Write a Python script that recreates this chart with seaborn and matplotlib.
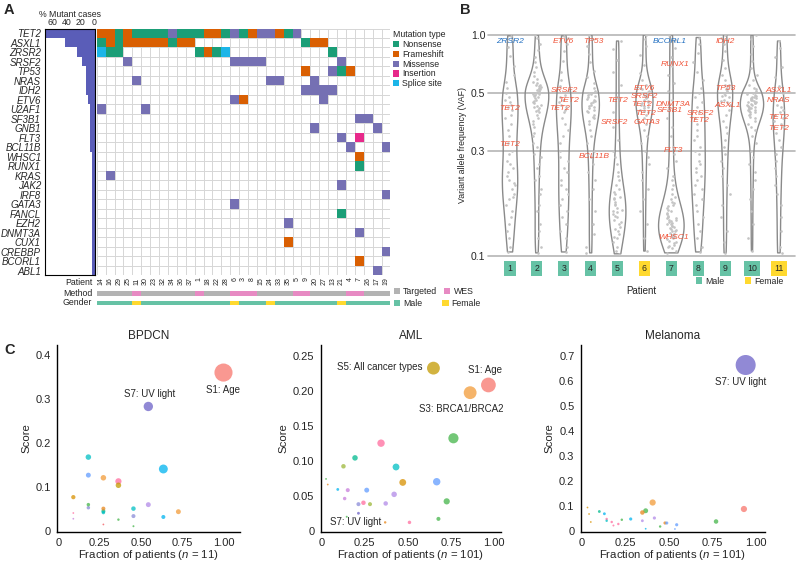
import numpy as np
import pandas as pd
import matplotlib
matplotlib.use("Agg")
import matplotlib.pyplot as plt
import seaborn as sns
from matplotlib.colors import ListedColormap
from matplotlib.patches import Patch
from matplotlib.ticker import NullLocator

# ---------------- panel A: oncoplot ----------------
patients_a = [14, 16, 29, 25, 11, 30, 23, 32, 34, 36, 37, 1, 18, 22, 28, 6, 3, 8,
              15, 24, 33, 35, 5, 9, 20, 27, 13, 21, 4, 7, 26, 17, 19]
wes_patients = [11, 1, 6, 3, 8, 5, 9, 4, 7]
female_patients_a = [11, 6, 24, 21]

genes = ["TET2", "ASXL1", "ZRSR2", "SRSF2", "TP53", "NRAS", "IDH2", "ETV6", "U2AF1",
         "SF3B1", "GNB1", "FLT3", "BCL11B", "WHSC1", "RUNX1", "KRAS", "JAK2", "IRF8",
         "GATA3", "FANCL", "EZH2", "DNMT3A", "CUX1", "CREBBP", "BCORL1", "ABL1"]

# one char per patient column: N nonsense, F frameshift, M missense, I insertion, S splice site
mutations = [
    "FFNFN NNNMN NNFFN MNFMM FNM.. ..... ...",  # TET2
    "NFNFF FFFNF F.... ..... ...NF F.... ...",  # ASXL1
    "SNN.. ..... .NFNS ..... ..... .N... ...",  # ZRSR2
    "...M. ..... ..... MMMM. ..... ..M.. ...",  # SRSF2
    "..... ..... ..... ..... ...F. .MNF. ...",  # TP53
    "....M ..... ..... ....M M...M ..... ...",  # NRAS
    "..... ..... ..... ..... ...MM MM... ...",  # IDH2
    "..... ..... ..... MF... ..... M.... ...",  # ETV6
    "M.... M.... ..... ..... ..... ..... ...",  # U2AF1
    "..... ..... ..... ..... ..... ....M M..",  # SF3B1
    "..... ..... ..... ..... ....M ..... .M.",  # GNB1
    "..... ..... ..... ..... ..... ..M.I ...",  # FLT3
    "..... ..... ..... ..... ..... ...M. ..M",  # BCL11B
    "..... ..... ..... ..... ..... ....F ...",  # WHSC1
    "..... ..... ..... ..... ..... ....N ...",  # RUNX1
    ".M... ..... ..... ..... ..... ..... ...",  # KRAS
    "..... ..... ..... ..... ..... ..M.. ...",  # JAK2
    "..... ..... ..... ..... ..... ..... ..M",  # IRF8
    "..... ..... ..... M.... ..... ..... ...",  # GATA3
    "..... ..... ..... ..... ..... ..N.. ...",  # FANCL
    "..... ..... ..... ..... .M... ..... ...",  # EZH2
    "..... ..... ..... ..... ..... ....M ...",  # DNMT3A
    "..... ..... ..... ..... .F... ..... ...",  # CUX1
    "..... ..... ..... ..... ..... ..... ..M",  # CREBBP
    "..... ..... ..... ..... ..... ....F ...",  # BCORL1
    "..... ..... ..... ..... ..... ..... .M.",  # ABL1
]
mut_names = ["Nonsense", "Frameshift", "Missense", "Insertion", "Splice site"]

# ---------------- panel B: VAF per patient (percent) ----------------
vaf_pct = [
    [99, 94, 87, 78, 69, 62, 57, 53, 50, 48, 47, 46, 45, 44, 43, 41, 40, 38, 36, 34, 32,
     30, 29, 27, 26, 25, 24, 23, 22, 21.5, 21, 20, 19, 18.5, 18, 17, 16, 15, 14, 13, 12, 11, 10.4],
    [100, 96, 90, 83, 77, 72, 68, 64, 61, 59, 57, 56, 55, 54, 53, 52, 51, 50, 49.5, 49, 48,
     47.5, 47, 46, 45.5, 45, 44, 43.5, 43, 42, 41, 40, 39, 38, 37, 35, 34, 32, 31, 29, 28,
     26, 25, 23, 22, 20, 19, 17, 16, 14, 13, 12, 11, 10.3,
     42.5, 44.5, 46.5, 48.5, 50.5, 52.5, 53.5, 54.5, 51.5, 49.2],
    [99, 96, 90, 82, 73, 64, 58, 54, 51, 49, 48, 47, 46, 45, 44, 43, 42, 40, 38, 36, 34,
     32, 30, 28, 27, 25, 24, 22, 21, 20, 19, 18, 17, 16, 15, 14, 13, 12, 11, 10.4],
    [100, 95, 88, 80, 72, 65, 60, 56, 53, 51, 50, 49, 48, 47, 46.5, 46, 45, 44.5, 44, 43,
     42.5, 42, 41, 40, 39, 38, 36, 34, 32, 30, 28, 26, 24, 22, 20, 18, 16, 14, 12.5, 11, 10.3,
     40.5, 43.5, 45.5, 47.2, 48.5, 49.5],
    [93, 85, 74, 64, 55, 48, 42, 37, 33, 30, 28, 26, 24, 23, 22, 21, 20, 19.5, 19, 18.5,
     18, 17.5, 17, 16.5, 16, 15.5, 15, 14.5, 14, 13.5, 13, 12.5, 12, 11.5, 11, 10.5, 10.2,
     12.2, 13.2, 14.2, 15.2, 15.8, 16.2, 17.2, 18.2],
    [100, 95, 88, 79, 70, 63, 58, 55, 53, 52, 51, 50, 49, 48, 47.5, 47, 46, 45, 44, 43, 42,
     41, 40, 38, 36, 34, 32, 30, 28, 26, 24, 22, 20, 18, 16, 14, 12, 10.5,
     42.5, 43.5, 44.5, 45.5, 46.5, 48.5, 49.5, 50.5],
    [100, 94, 86, 77, 69, 62, 56, 51, 47, 43, 40, 37, 34, 31, 29, 27, 25, 23, 22, 21, 20,
     19, 18.5, 18, 17.5, 17, 16.5, 16, 15.5, 15, 14.8, 14.5, 14.2, 14, 13.7, 13.5, 13.2,
     13, 12.7, 12.5, 12.2, 12, 11.7, 11.5, 11.2, 11, 10.8, 10.5, 10.3,
     11.1, 11.4, 11.9, 12.1, 12.4, 12.6, 12.9, 13.1, 13.4, 13.6, 13.9, 14.1, 14.4, 14.6,
     14.9, 15.2, 15.7, 16.2, 16.8, 17.3],
    [97, 90, 81, 72, 64, 58, 53, 50, 48, 46, 44, 42, 40, 38, 36, 34, 33, 31, 30, 29, 27,
     26, 25, 24, 23, 22, 21, 20, 19, 18, 17, 16, 15, 14, 13, 12, 11, 10.4],
    [100, 96, 90, 82, 74, 67, 62, 58, 55, 53, 52, 51, 50, 49, 48, 47, 46, 45, 43, 41, 39,
     37, 35, 33, 31, 29, 27, 25, 23, 21, 19, 17, 15, 13, 11.5, 10.3,
     46.5, 48.5, 50.5, 52.5, 54.5],
    [100, 95, 88, 80, 73, 67, 62, 58, 55, 53, 52, 51, 50, 49.5, 49, 48.5, 48, 47.5, 47,
     46.5, 46, 45.5, 45, 44.5, 44, 43.5, 43, 42.5, 42, 41, 40, 39, 38, 37, 36, 34, 32, 30,
     28, 26, 24, 22, 20, 18, 16, 14, 12, 10.5,
     40.5, 41.5, 42.2, 42.8, 43.2, 43.8, 44.2, 44.8, 45.2, 45.8, 46.2, 46.8, 47.2, 47.8, 48.2],
    [93, 86, 77, 68, 60, 54, 50, 47, 45, 44, 43, 42, 41, 40, 39, 38, 37, 35, 33, 31, 29,
     27, 25, 23, 21, 19, 17, 15, 13, 11, 10.3],
]
female_patients_b = [6, 11]
# (patient, VAF, gene, highlighted in blue)
vaf_labels = [
    (1, 0.93, "ZRSR2", True), (1, 0.435, "TET2", False), (1, 0.317, "TET2", False),
    (3, 0.93, "ETV6", False), (3, 0.51, "SRSF2", False), (3, 0.468, "TET2", False),
    (3, 0.435, "TET2", False), (4, 0.93, "TP53", False), (4, 0.282, "BCL11B", False),
    (5, 0.468, "TET2", False), (5, 0.383, "SRSF2", False),
    (6, 0.526, "ETV6", False), (6, 0.483, "SRSF2", False), (6, 0.449, "TET2", False),
    (6, 0.417, "TET2", False), (6, 0.383, "GATA3", False),
    (7, 0.93, "BCORL1", True), (7, 0.70, "RUNX1", False), (7, 0.452, "DNMT3A", False),
    (7, 0.426, "SF3B1", False), (7, 0.299, "FLT3", False), (7, 0.121, "WHSC1", False),
    (8, 0.415, "SRSF2", False), (8, 0.39, "TET2", False),
    (9, 0.93, "IDH2", False), (9, 0.526, "TP53", False), (9, 0.445, "ASXL1", False),
    (11, 0.51, "ASXL1", False), (11, 0.468, "NRAS", False), (11, 0.40, "TET2", False),
    (11, 0.365, "TET2", False),
]
label_dx = [0, 0, 0, 0, 0.04, 0.17, -0.14, 0.1, 0.12, 0, -0.13, 0, 0, -0.1, 0.05, 0.08,
            -0.05, 0.13, 0.07, -0.05, 0.07, 0.1, 0.09, 0, 0, 0, 0.1, 0, 0, 0, 0]

# gridline positions of the reference VAF axis (fraction of axis height)
vaf_ticks = [0.1, 0.3, 0.5, 1.0]
vaf_tick_pos = [0.0, 0.476, 0.739, 1.0]

# ---------------- panel C: mutational signatures ----------------
bpdcn_frac = [1.0, 0.545, 0.636, 0.182, 0.182, 0.273, 0.364, 0.364, 0.091, 0.182,
              0.182, 0.273, 0.273, 0.273, 0.545, 0.455, 0.455, 0.636, 0.727, 0.364,
              0.091, 0.091, 0.273, 0.455]
bpdcn_score = [0.36, 0.283, 0.141, 0.168, 0.127, 0.121, 0.113, 0.104, 0.077, 0.060,
               0.053, 0.051, 0.045, 0.042, 0.060, 0.051, 0.034, 0.032, 0.044, 0.026,
               0.041, 0.028, 0.015, 0.011]
bpdcn_weight = [0.80, 0.21, 0.19, 0.07, 0.055, 0.07, 0.09, 0.07, 0.04, 0.025,
                0.025, 0.035, 0.035, 0.025, 0.055, 0.045, 0.035, 0.035, 0.055, 0.01,
                0.003, 0.003, 0.003, 0.005]
bpdcn_sig = ["S1", "S7", "S12", "S6", "S13", "S3", "S18", "S5", "S30", "S10",
             "S19", "S2", "S11", "S6", "S15", "S6", "S19", "S12", "S3", "S10",
             "S18", "S17", "S26", "S10"]

aml_frac = [0.967, 0.861, 0.648, 0.764, 0.344, 0.193, 0.431, 0.126, 0.667, 0.47,
            0.725, 0.42, 0.261, 0.151, 0.093, 0.133, 0.213, 0.242, 0.28, 0.371,
            0.213, 0.145, 0.025, 0.035, 0.368, 0.509, 0.677]
aml_score = [0.208, 0.197, 0.232, 0.132, 0.125, 0.104, 0.091, 0.092, 0.070, 0.069,
             0.042, 0.052, 0.058, 0.058, 0.059, 0.046, 0.038, 0.040, 0.038, 0.039,
             0.025, 0.020, 0.074, 0.066, 0.012, 0.012, 0.017]
aml_weight = [0.53, 0.40, 0.40, 0.25, 0.13, 0.07, 0.11, 0.045, 0.13, 0.11,
              0.09, 0.07, 0.055, 0.035, 0.015, 0.025, 0.035, 0.045, 0.035, 0.045,
              0.015, 0.005, 0.003, 0.003, 0.01, 0.025, 0.035]
aml_sig = ["S1", "S3", "S5", "S10", "S18", "S11", "S6", "S9", "S13", "S30",
           "S10", "S15", "S13", "S17", "S12", "S17", "S19", "S18", "S9", "S15",
           "S7", "S10", "S10", "S2", "S2", "S18", "S10"]

mel_frac = [0.941, 0.931, 0.407, 0.367, 0.348, 0.771, 0.281, 0.417, 0.348, 0.478,
            0.488, 0.545, 0.45, 0.101, 0.13, 0.143, 0.143, 0.172, 0.21, 0.23,
            0.182, 0.033, 0.042, 0.052, 0.367, 0.535]
mel_score = [0.663, 0.087, 0.113, 0.080, 0.073, 0.037, 0.047, 0.051, 0.040, 0.031,
             0.031, 0.024, 0.017, 0.077, 0.068, 0.047, 0.040, 0.035, 0.027, 0.044,
             0.021, 0.093, 0.067, 0.035, 0.008, 0.007]
mel_weight = [0.98, 0.09, 0.09, 0.055, 0.045, 0.045, 0.02, 0.02, 0.015, 0.02,
              0.02, 0.02, 0.01, 0.015, 0.015, 0.01, 0.01, 0.01, 0.01, 0.01,
              0.005, 0.003, 0.003, 0.003, 0.003, 0.003]
mel_sig = ["S7", "S1", "S3", "S10", "S2", "S10", "S12", "S15", "S15", "S2",
           "S13", "S13", "S10", "S11", "S12", "S18", "S6", "S18", "S18", "S10",
           "S18", "S30", "S30", "S30", "S12", "S13"]

# ---------------- styling ----------------
W, H = 797, 564
mut_colors = ["#1b9e77", "#d95f02", "#7570b3", "#e7298a", "#1cb5e8"]
c_targeted, c_wes = "#b3b3b3", "#e78ac3"
c_male, c_female = "#66c2a5", "#ffd92f"
c_red, c_blue = "#f0553a", "#2471c2"
sig_colors = {
    "S1": "#F8766D", "S2": "#E7861B", "S3": "#F29B38", "S5": "#C49A00",
    "S6": "#00BFC4", "S7": "#6C61C7", "S9": "#9CB83A", "S10": "#44B549",
    "S11": "#00BA8F", "S12": "#00B4EF", "S13": "#619CFF", "S15": "#B28AE8",
    "S17": "#C77CDB", "S18": "#FF6C9E", "S19": "#8A8BD8", "S26": "#F2545B",
    "S30": "#D89000",
}

sns.set_theme(style="white")
plt.rcParams["font.family"] = ["Liberation Sans", "DejaVu Sans"]
plt.rcParams["mathtext.fontset"] = "custom"
plt.rcParams["mathtext.it"] = "Liberation Sans:italic"
plt.rcParams["mathtext.rm"] = "Liberation Sans"


def box(x0, y0, x1, y1):
    # pixel box (top-left origin) -> figure fraction rect
    return [x0 / W, 1 - y1 / H, (x1 - x0) / W, (y1 - y0) / H]


fig = plt.figure(figsize=(W / 100, H / 100), dpi=100)

# ---- A: mutation matrix ----
codes = {".": 0, "N": 1, "F": 2, "M": 3, "I": 4, "S": 5}
onco = pd.DataFrame([[codes[c] for c in s.replace(" ", "")] for s in mutations],
                    index=genes, columns=[str(p) for p in patients_a])
assert onco.shape == (len(genes), len(patients_a))

ax_hm = fig.add_axes(box(96.7, 28.5, 390.4, 275.4))
sns.heatmap(onco, mask=onco == 0, cmap=ListedColormap(["white"] + mut_colors),
            vmin=-0.5, vmax=5.5, cbar=False, xticklabels=True, yticklabels=False, ax=ax_hm)
ax_hm.set_xticks(np.arange(onco.shape[1] + 1), minor=True)
ax_hm.set_yticks(np.arange(onco.shape[0] + 1), minor=True)
ax_hm.grid(which="minor", color="#d6d6d6", lw=0.7)
ax_hm.set_axisbelow(True)
ax_hm.tick_params(which="both", length=0)
ax_hm.tick_params(axis="x", labelsize=5, rotation=90, pad=1.5)
ax_hm.set_xlabel("")
ax_hm.set_ylabel("")

pct_mut = (onco > 0).sum(axis=1) / onco.shape[1] * 100
ax_bar = fig.add_axes(box(45, 28.5, 94.5, 275.4))
sns.barplot(x=pct_mut.values, y=genes, orient="h", color="#5a5db8", saturation=1,
            width=1.0, linewidth=0, ax=ax_bar)
ax_bar.set_xlim(70, 0)
ax_bar.set_ylim(len(genes) - 0.5, -0.5)
ax_bar.xaxis.tick_top()
ax_bar.xaxis.set_label_position("top")
ax_bar.set_xticks([60, 40, 20, 0])
ax_bar.set_xlabel("% Mutant cases", fontsize=6.3, labelpad=1)
ax_bar.set_ylabel("")
ax_bar.tick_params(axis="x", labelsize=6.3, length=0, pad=0.8)
ax_bar.tick_params(axis="y", labelsize=7, length=2, width=0.6, pad=1)
for lbl in ax_bar.get_yticklabels():
    lbl.set_style("italic")
for sp in ax_bar.spines.values():
    sp.set_color("black")
    sp.set_linewidth(0.8)

method_a = [int(p in wes_patients) for p in patients_a]
gender_a = [int(p in female_patients_a) for p in patients_a]
for y0, vals, cols in [(291.3, method_a, [c_targeted, c_wes]),
                       (300.6, gender_a, [c_male, c_female])]:
    ax_t = fig.add_axes(box(96.7, y0, 390.4, y0 + 4.3))
    sns.heatmap(pd.DataFrame([vals]), cmap=ListedColormap(cols), vmin=0, vmax=1,
                cbar=False, xticklabels=False, yticklabels=False, ax=ax_t)
for y0, txt in [(282.5, "Patient"), (293.5, "Method"), (302.8, "Gender")]:
    fig.text(92 / W, 1 - y0 / H, txt, ha="right", va="center", fontsize=6.3)

leg_kw = dict(frameon=False, fontsize=6.3, handlelength=0.7, handleheight=0.7,
              handletextpad=0.35, borderpad=0, borderaxespad=0)
fig.legend(handles=[Patch(fc=c, ec="none", label=n) for c, n in zip(mut_colors, mut_names)],
           loc="upper left", bbox_to_anchor=(393 / W, 1 - 30 / H), title="Mutation type",
           title_fontsize=6.3, alignment="left", labelspacing=0.1, **leg_kw)
fig.legend(handles=[Patch(fc=c_targeted, ec="none", label="Targeted"),
                    Patch(fc=c_wes, ec="none", label="WES")],
           loc="center left", bbox_to_anchor=(394 / W, 1 - 291.5 / H), ncol=2,
           columnspacing=0.8, **leg_kw)
fig.legend(handles=[Patch(fc=c_male, ec="none", label="Male"),
                    Patch(fc=c_female, ec="none", label="Female")],
           loc="center left", bbox_to_anchor=(394 / W, 1 - 303.5 / H), ncol=2,
           columnspacing=2.3, **leg_kw)

# ---- B: VAF violins ----
vaf_df = pd.DataFrame([(str(i + 1), v / 100) for i, vals in enumerate(vaf_pct) for v in vals],
                      columns=["patient", "vaf"])
order_b = [str(i) for i in range(1, len(vaf_pct) + 1)]

log_knots = np.log10([0.001] + vaf_ticks + [10.0])
pos_knots = np.array([-2.0] + vaf_tick_pos + [1.87])


def vaf_fwd(v):
    v = np.clip(np.asarray(v, dtype=float), 1e-3, 10)
    return np.interp(np.log10(v), log_knots, pos_knots)


def vaf_inv(p):
    return 10 ** np.interp(np.asarray(p, dtype=float), pos_knots, log_knots)


np.random.seed(3)
ax_b = fig.add_axes(box(488, 35, 795, 255.7))
sns.violinplot(data=vaf_df, x="patient", y="vaf", order=order_b, log_scale=True,
               fill=False, color="#8a8a8a", linewidth=1.0, inner=None, cut=0,
               density_norm="count", width=0.95, bw_adjust=0.7, ax=ax_b)
sns.stripplot(data=vaf_df, x="patient", y="vaf", order=order_b, color="#c4c4c4",
              size=1.9, jitter=0.18, ax=ax_b)
ax_b.set_yscale("function", functions=(vaf_fwd, vaf_inv))
ax_b.yaxis.set_minor_locator(NullLocator())
ax_b.set_ylim(0.1, 1.0)
ax_b.set_yticks(vaf_ticks, ["0.1", "0.3", "0.5", "1.0"])
for t in vaf_ticks:
    ax_b.axhline(t, color="#b5b5b5", lw=1.2, zorder=0, clip_on=False)
ax_b.set_xlim(-0.82, 10.6)
sns.despine(ax=ax_b, left=True, bottom=True)
ax_b.tick_params(axis="y", length=0, labelsize=7.5, pad=2)
ax_b.tick_params(axis="x", length=0, labelsize=6.3, pad=6)
for lbl, pid in zip(ax_b.get_xticklabels(), order_b):
    fc = c_female if int(pid) in female_patients_b else c_male
    lbl.set_bbox(dict(boxstyle="square,pad=0.35", fc=fc, ec="none"))
ax_b.set_xlabel("Patient", fontsize=7, labelpad=9)
ax_b.set_ylabel("Variant allele frequency (VAF)", fontsize=6.3, labelpad=3)
for (pid, vaf, gene, hl), dx in zip(vaf_labels, label_dx):
    ax_b.text(pid - 1 + dx, vaf, gene, color=c_blue if hl else c_red, fontsize=6.1,
              style="italic", ha="center", va="center", zorder=5)
fig.legend(handles=[Patch(fc=c_male, ec="none", label="Male"),
                    Patch(fc=c_female, ec="none", label="Female")],
           loc="center left", bbox_to_anchor=(696 / W, 1 - 281 / H), ncol=2,
           columnspacing=2.4, **leg_kw)

# ---- C: signature bubbles ----
panels_c = [
    ("BPDCN", bpdcn_frac, bpdcn_score, bpdcn_weight, bpdcn_sig, 11, (57.3, 240),
     (-0.006, 1.10), (-0.001, 0.4226), [0, 0.1, 0.2, 0.3, 0.4], "{:.1f}",
     [("S1: Age", 1.0, 0.321, "center"), ("S7: UV light", 0.55, 0.311, "center")]),
    ("AML", aml_frac, aml_score, aml_weight, aml_sig, 101, (320.7, 501),
     (-0.006, 1.04), (-0.001, 0.265), [0, 0.05, 0.10, 0.15, 0.20, 0.25], "{:.2f}",
     [("S5: All cancer types", 0.584, 0.234, "right"), ("S1: Age", 0.948, 0.230, "center"),
      ("S3: BRCA1/BRCA2", 0.812, 0.174, "center"), ("S7: UV light", 0.199, 0.012, "center")]),
    ("Melanoma", mel_frac, mel_score, mel_weight, mel_sig, 101, (580.7, 765),
     (-0.006, 1.052), (-0.003, 0.743), [0, 0.1, 0.2, 0.3, 0.4, 0.5, 0.6, 0.7], "{:.1f}",
     [("S7: UV light", 0.912, 0.594, "center")]),
]
for title, fx, sc, wt, sg, n, (x0, x1), xl, yl, yt, yfmt, notes in panels_c:
    ax = fig.add_axes(box(x0, 345, x1, 531.5))
    d = pd.DataFrame({"frac": fx, "score": sc, "weight": wt, "sig": sg})
    d = d.sort_values("weight", ascending=False)
    sns.scatterplot(data=d, x="frac", y="score", size="weight", sizes=(1, 212),
                    size_norm=(0, 1), hue="sig", palette=sig_colors, alpha=0.75,
                    linewidth=0, legend=False, ax=ax)
    ax.set_xlim(*xl)
    ax.set_ylim(*yl)
    ax.set_xticks([0, 0.25, 0.5, 0.75, 1.0], ["0", "0.25", "0.50", "0.75", "1.00"])
    ax.set_yticks(yt, ["0"] + [yfmt.format(v) for v in yt[1:]])
    sns.despine(ax=ax)
    for sp in ("left", "bottom"):
        ax.spines[sp].set_color("black")
        ax.spines[sp].set_linewidth(1.0)
    ax.tick_params(length=3, width=0.8, labelsize=8, pad=1.5, color="black")
    ax.set_title(title, fontsize=8.5, pad=4)
    ax.set_xlabel(r"Fraction of patients ($\mathit{n}$ = %d)" % n, fontsize=8.2, labelpad=0.5)
    ax.set_ylabel("Score", fontsize=8.2, labelpad=3)
    for txt, tx, ty, ha in notes:
        ax.text(tx, ty, txt, fontsize=7, ha=ha, va="center")

fig.text(4 / W, 1 - 3 / H, "A", fontsize=10.5, fontweight="bold", va="top")
fig.text(460 / W, 1 - 3 / H, "B", fontsize=10.5, fontweight="bold", va="top")
fig.text(4 / W, 1 - 343 / H, "C", fontsize=10.5, fontweight="bold", va="top")

fig.savefig("out.png", dpi=100)
